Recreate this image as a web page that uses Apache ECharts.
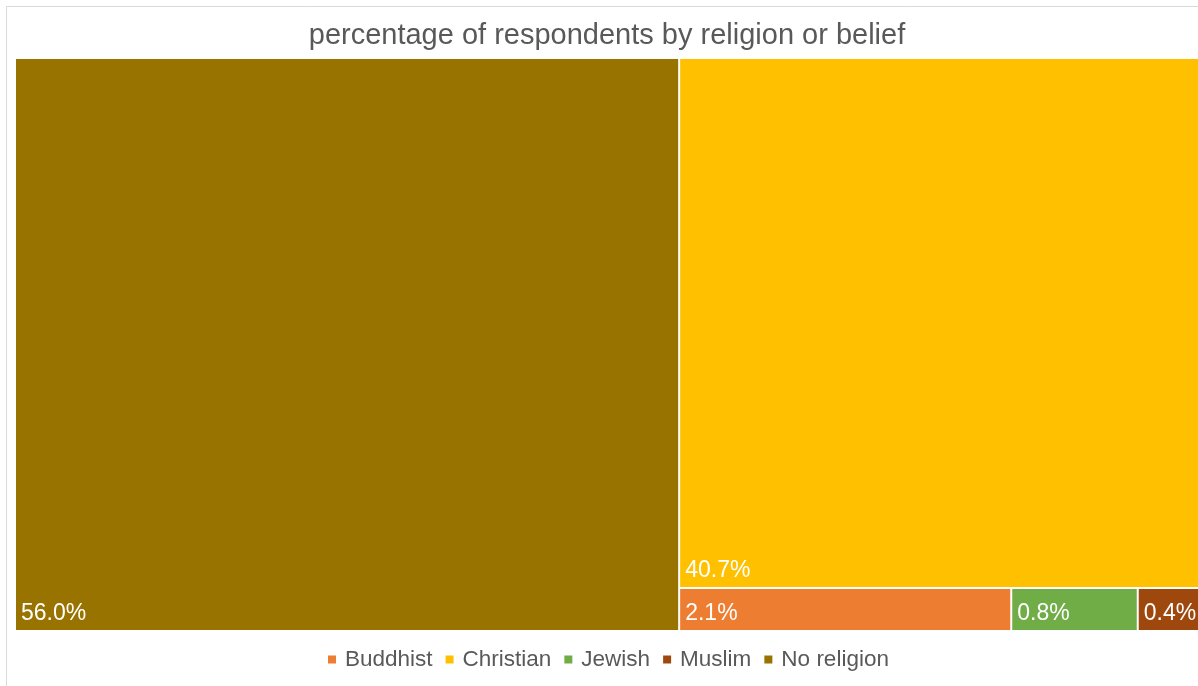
<!DOCTYPE html>
<html>
<head>
<meta charset="utf-8">
<title>percentage of respondents by religion or belief</title>
<script src="https://cdn.jsdelivr.net/npm/echarts@6/dist/echarts.min.js"></script>
<style>
  html, body { margin: 0; padding: 0; background: #ffffff; overflow: hidden; width: 1198px; height: 686px; }
  #chart { width: 1214px; height: 686px; }
</style>
</head>
<body>
<div id="chart"></div>
<script>
// Religion or belief groups and their share of respondents (%)
const categories = ['No religion', 'Christian', 'Buddhist', 'Jewish', 'Muslim'];
const shares = [56.0, 40.7, 2.1, 0.8, 0.4];
const colors = ['#997300', '#FFC000', '#ED7D31', '#70AD47', '#9E480E'];
// Legend lists the groups alphabetically
const legendOrder = ['Buddhist', 'Christian', 'Jewish', 'Muslim', 'No religion'];

const FONT = '"Liberation Sans", Arial, sans-serif';
const colorOf = name => colors[categories.indexOf(name)];

const treeData = categories.map((name, i) => ({
  name: name,
  value: shares[i],
  itemStyle: { color: colors[i] }
}));

// Empty series that only feed the legend with names and swatch colours
const legendSeries = legendOrder.map(name => ({
  name: name,
  type: 'scatter',
  data: [],
  itemStyle: { color: colorOf(name), opacity: 1 }
}));

const chart = echarts.init(document.getElementById('chart'), null, { renderer: 'canvas' });

chart.setOption({
  animation: false,
  textStyle: { fontFamily: FONT },
  title: {
    text: 'percentage of respondents by religion or belief',
    left: 'center',
    top: 16,
    textStyle: { fontFamily: FONT, fontSize: 29, fontWeight: 'normal', color: '#595959' }
  },
  legend: {
    data: legendOrder,
    left: 323,
    top: 643,
    icon: 'rect',
    itemWidth: 8,
    itemHeight: 8,
    itemGap: 13,
    selectedMode: false,
    textStyle: { fontFamily: FONT, fontSize: 22.5, color: '#595959', padding: [0, 0, 0, 4] }
  },
  grid: { show: false, left: 0, top: 0, width: 1, height: 1 },
  xAxis: { show: false, type: 'value' },
  yAxis: { show: false, type: 'value' },
  graphic: [{
    type: 'rect',
    silent: true,
    z: -10,
    shape: { x: 6.5, y: 6.5, width: 1203, height: 700 },
    style: { fill: 'none', stroke: '#d9d9d9', lineWidth: 1 }
  }],
  series: [{
    type: 'treemap',
    name: 'share',
    left: 16,
    top: 59,
    width: 1184,
    height: 571,
    roam: false,
    nodeClick: false,
    sort: 'desc',
    breadcrumb: { show: false },
    data: treeData,
    levels: [{
      itemStyle: { borderWidth: 0, gapWidth: 2, borderColor: '#ffffff' }
    }],
    label: {
      show: true,
      position: 'insideBottomLeft',
      distance: 0,
      overflow: 'none',
      fontFamily: FONT,
      fontSize: 23,
      color: '#ffffff',
      formatter: p => p.value.toFixed(1) + '%'
    },
    emphasis: { disabled: true },
    silent: true
  }, ...legendSeries]
});
</script>
</body>
</html>
